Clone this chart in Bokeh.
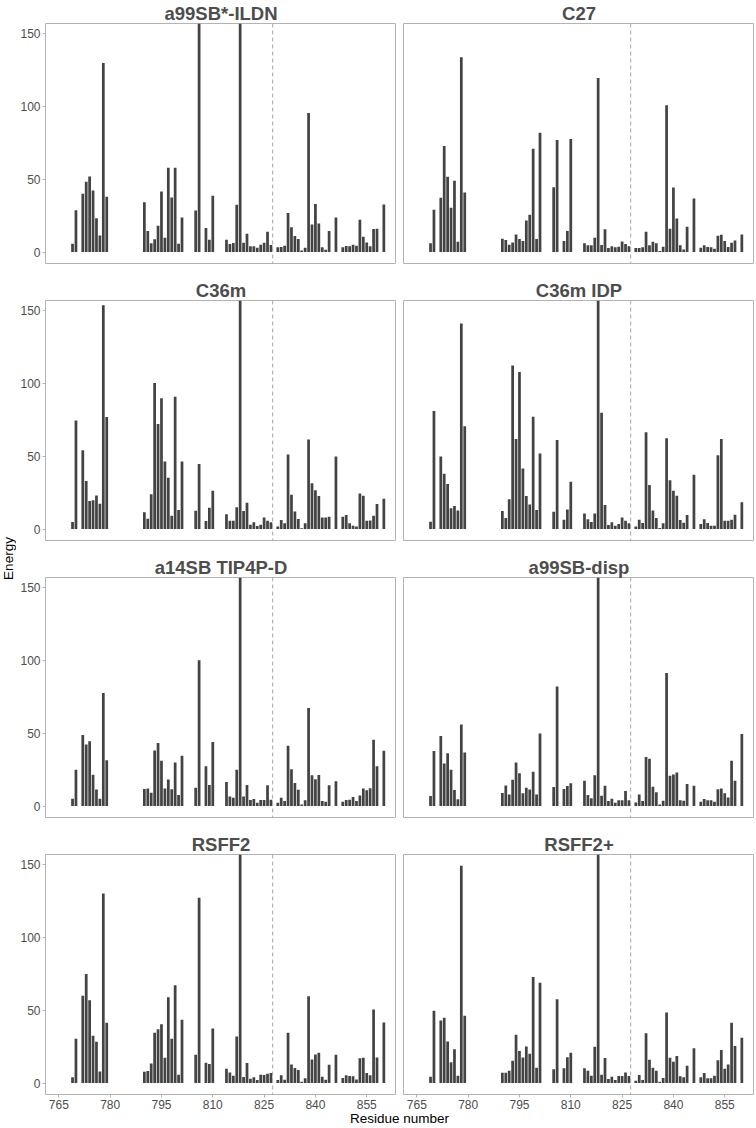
import math
from bokeh.plotting import figure
from bokeh.layouts import column, row
from bokeh.models import Range1d, FixedTicker, Span, Label
from bokeh.embed import file_html
from bokeh.resources import INLINE

# ---------------- data ----------------
residues = [769, 770, 772, 773, 774, 775, 776, 777, 778, 779,
            790, 791, 792, 793, 794, 795, 796, 797, 798, 799, 800, 801,
            805, 806, 808, 809, 810,
            814, 815, 816, 817, 818, 819, 820, 821, 822, 823, 824, 825, 826, 827,
            829, 830, 831, 832, 833, 834, 835, 836, 837, 838, 839, 840, 841, 842, 843, 844,
            846, 848, 849, 850, 851, 852, 853, 854, 855, 856, 857, 858, 860]

# values above the visible axis limit (clipped in the figure) are estimated as 170
a99sbstar_ildn = [5.7, 28.8, 40, 48.3, 52, 42.3, 23.3, 11.4, 130, 38,
                  34.3, 14.4, 6, 8.7, 18, 41.6, 9.8, 58, 37.5, 58, 5.7, 23.8,
                  28.6, 170, 16.5, 8.5, 38.7,
                  8.5, 5.5, 6.2, 32.5, 170, 6.4, 12.6, 3.9, 3.9, 3, 5, 6.4, 14, 4.8,
                  3.2, 3.4, 4.3, 26.8, 17, 11, 8.9, 1.1, 3, 95.7, 19, 33, 19.7, 3.2, 1.6, 14.4,
                  23.8, 3.2, 4.1, 3.9, 5, 4.3, 22.2, 10.5, 6.6, 3.9, 15.8, 16, 32.7]
c27 = [6, 29, 37.3, 73, 51.7, 30.4, 49, 7.1, 134, 41,
       9.2, 8.2, 5, 6.6, 12.1, 8.9, 7.6, 21.7, 25.6, 71, 8.9, 82,
       44.6, 77, 7.6, 14.4, 77.8,
       6, 4.6, 4.6, 9.8, 119.7, 4.8, 15.6, 2.7, 3.9, 3.2, 3.7, 7.3, 5.5, 3.9,
       2.7, 2.7, 3.2, 14, 4.6, 7.1, 6, 0.7, 3.7, 101, 16, 44.4, 23.1, 4.6, 1.8, 17.4,
       36.8, 3, 4.6, 3.4, 3.2, 2.3, 11.2, 11.9, 7.6, 3.4, 6.4, 8, 12.1]
c36m = [4.8, 74.6, 54.2, 33, 19.3, 19.8, 23.1, 17.4, 154, 77,
        11.5, 7.1, 24, 100.5, 72.3, 90, 46.5, 35.3, 9.2, 91, 13.1, 46.5,
        12.6, 44.7, 5.5, 14.6, 26.3,
        10.2, 5.7, 5.7, 14.9, 170, 12.4, 18, 3, 4.6, 2, 3, 8, 5.7, 4.6,
        1.8, 6.2, 3.9, 51.3, 23.6, 12, 6.9, 0.5, 3.9, 61.6, 31.4, 26.6, 22.7, 8, 8, 8.5,
        49.9, 8.5, 9.7, 3.9, 2.3, 1.8, 24.4, 22.8, 5.7, 5.9, 9.2, 17.2, 20.9]
c36m_idp = [5, 81.2, 49.9, 38.1, 31, 14.3, 15.8, 12.7, 141.4, 70.7,
            12.4, 7.6, 20.5, 112.4, 62, 108, 41.6, 22.7, 16.8, 77.3, 13, 52,
            11.9, 61.3, 6.4, 13.5, 32.5,
            10.6, 6.7, 4.8, 10.7, 170, 80, 16.6, 2.7, 4.6, 2.3, 3.4, 8, 5.7, 3.9,
            1.8, 6.4, 4.1, 66.6, 30.2, 12.7, 7.6, 0.7, 3.9, 62.5, 33.6, 26.3, 22.8, 6.2, 4.3, 9.6,
            37.3, 3.4, 6.7, 4.1, 2.3, 2.3, 50.8, 62, 5.7, 5.7, 6.4, 9.8, 18.4]
a14sb_tip4pd = [5, 24.9, 48.9, 42.4, 44.5, 21.5, 11.4, 5, 77.8, 31.4,
                11.7, 12.1, 9.2, 38.2, 43.4, 31.1, 12, 18.3, 11.6, 30, 7.6, 34.5,
                12.6, 100.2, 27.4, 14.5, 44,
                16.6, 6.6, 5.7, 24.9, 170, 6.6, 14.5, 4.1, 4.8, 2.3, 4.1, 4.1, 14.3, 4.3,
                2.3, 5.7, 3.4, 41.4, 25.3, 15.8, 11.2, 1.1, 3.9, 67.4, 21.2, 18.4, 21.3, 3.4, 3, 14.3,
                17.1, 3, 4.1, 4.3, 6.2, 3.4, 7.3, 12, 10.8, 12.2, 45.6, 27.4, 38]
a99sb_disp = [6.9, 37.8, 48.2, 29.2, 36.3, 25, 11.1, 4.6, 56, 36.8,
              9, 14.1, 8, 18, 30, 22.5, 8.8, 12.6, 11.4, 23.5, 8, 49.8,
              13, 82.3, 11.7, 13.7, 15.6,
              17.3, 7.6, 5.3, 21.1, 170, 7.1, 13.9, 3.4, 5, 2.3, 3.9, 3.9, 10.4, 3.9,
              2.5, 8, 3.4, 33.8, 32.5, 13.2, 9.4, 1.1, 3.7, 91.5, 20.8, 21.6, 23, 3.9, 3.7, 15.2,
              13.9, 3, 4.8, 3.9, 3.9, 3, 11.6, 12, 8.7, 5.9, 31.1, 17.3, 49.5]
rsff2 = [3.9, 30.4, 60, 75, 57, 32.5, 28.4, 8, 130.4, 41.4,
         7.8, 8.2, 13.5, 34.6, 37, 40.5, 17.4, 59, 30.4, 67.3, 5.7, 43.5,
         19.5, 127.5, 14, 13, 37.5,
         9.8, 7.3, 5, 32, 170, 4.1, 13.7, 3, 3.9, 2, 5.7, 5.5, 6.4, 6.9,
         2, 5.3, 2.3, 34.6, 12.8, 10.3, 8.9, 0.9, 3.2, 59.7, 16.2, 19.7, 20.8, 4.3, 2.3, 12.6,
         19.5, 3.4, 5.3, 4.8, 4.6, 2.5, 17, 17.4, 6.9, 5.3, 50.6, 17.6, 41.6]
rsff2_plus = [4.3, 49.7, 43, 44.9, 28.6, 14.2, 23.3, 5, 149.4, 46.2,
              7.1, 7.1, 8.5, 15.3, 33.2, 22, 17.6, 25.2, 20.1, 73, 10.5, 68.9,
              9.4, 57.7, 10.1, 17.8, 20.8,
              10.1, 8.5, 5, 24.9, 170, 5.7, 17.2, 2.7, 4.3, 2, 4.8, 4.8, 7.3, 4.8,
              1.6, 5.5, 2, 34.3, 16, 10.5, 8.5, 0.9, 3.4, 48.5, 17.4, 14.6, 18.5, 4.6, 3.9, 11.9,
              24, 3.9, 6.9, 3.2, 3.2, 5, 15.6, 22.7, 9.8, 12.8, 41.4, 25.4, 31.1]

panel_names = ["a99SB*-ILDN", "C27", "C36m", "C36m IDP",
               "a14SB TIP4P-D", "a99SB-disp", "RSFF2", "RSFF2+"]
panel_values = [a99sbstar_ildn, c27, c36m, c36m_idp,
                a14sb_tip4pd, a99sb_disp, rsff2, rsff2_plus]

x_ticks = [765, 780, 795, 810, 825, 840, 855]
y_ticks = [0, 50, 100, 150]
boundary_residue = 827.5

# ---------------- style ----------------
FONT = "Liberation Sans"
X_RANGE = (761.1, 863.7)
Y_RANGE = (-7.9, 157.2)
FRAME_W = 351
FRAME_H = 240
BAR_COLOR = "#434343"
FRAME_COLOR = "#B3B3B3"
TICK_TEXT = "#4D4D4D"
ENERGY_W = 16


def make_panel(name, values, left_col, bottom_row):
    p = figure(frame_width=FRAME_W, frame_height=FRAME_H,
               x_range=Range1d(*X_RANGE), y_range=Range1d(*Y_RANGE),
               output_backend="svg", toolbar_location=None,
               x_axis_location="below" if bottom_row else None,
               y_axis_location="left" if left_col else None,
               min_border_top=0, min_border_right=0,
               min_border_left=29 if left_col else 7,
               min_border_bottom=2 if bottom_row else 14)
    p.title.text = name
    p.title.align = "center"
    p.title.text_font = FONT
    p.title.text_font_size = "18.5px"
    p.title.text_font_style = "bold"
    p.title.text_color = "#4D4D4D"
    p.title.standoff = 0
    p.outline_line_color = FRAME_COLOR
    p.outline_line_width = 1
    p.background_fill_color = "white"
    p.border_fill_color = "white"
    for g in p.grid:
        g.visible = False
    for ax in p.axis:
        ax.axis_line_color = None
        ax.major_tick_line_color = FRAME_COLOR
        ax.major_tick_out = 3
        ax.major_tick_in = 0
        ax.minor_tick_line_color = None
        ax.major_label_text_font = FONT
        ax.major_label_text_font_size = "12px"
        ax.major_label_text_color = TICK_TEXT
        ax.major_label_standoff = 2
    if bottom_row:
        p.xaxis.ticker = FixedTicker(ticks=x_ticks)
    if left_col:
        p.yaxis.ticker = FixedTicker(ticks=y_ticks)
    p.vbar(x=residues, top=values, bottom=0, width=0.8,
           fill_color=BAR_COLOR, line_color=None)
    p.add_layout(Span(location=boundary_residue, dimension="height",
                      line_color="#A8A8A8", line_dash="4 3", line_width=1))
    return p


rows = []
for r in range(4):
    pair = []
    for c in range(2):
        i = r * 2 + c
        pair.append(make_panel(panel_names[i], panel_values[i],
                               left_col=(c == 0), bottom_row=(r == 3)))
    rows.append(row(*pair))
grid = column(*rows)

GRID_H = 1100
energy = figure(width=ENERGY_W, height=GRID_H, x_range=Range1d(0, ENERGY_W),
                y_range=Range1d(0, GRID_H), output_backend="svg",
                toolbar_location=None, x_axis_location=None,
                y_axis_location=None, min_border=0, outline_line_color=None)
energy.grid.visible = False
energy.add_layout(Label(x=8, y=GRID_H - 558, text="Energy", angle=math.pi / 2,
                        text_align="center", text_baseline="middle",
                        text_font=FONT, text_font_size="13.5px",
                        text_color="black"))

TOTAL_W = ENERGY_W + 29 + FRAME_W + 7 + FRAME_W
residue_fig = figure(width=TOTAL_W, height=14, x_range=Range1d(0, TOTAL_W),
                     y_range=Range1d(0, 14), output_backend="svg",
                     toolbar_location=None, x_axis_location=None,
                     y_axis_location=None, min_border=0, outline_line_color=None)
residue_fig.grid.visible = False
residue_fig.add_layout(Label(x=399, y=7, text="Residue number",
                             text_align="center", text_baseline="middle",
                             text_font=FONT, text_font_size="13.5px",
                             text_color="black"))

layout = column(row(energy, grid), residue_fig)

open("out.html", "w").write(file_html(layout, INLINE, title="Energy by residue"))
